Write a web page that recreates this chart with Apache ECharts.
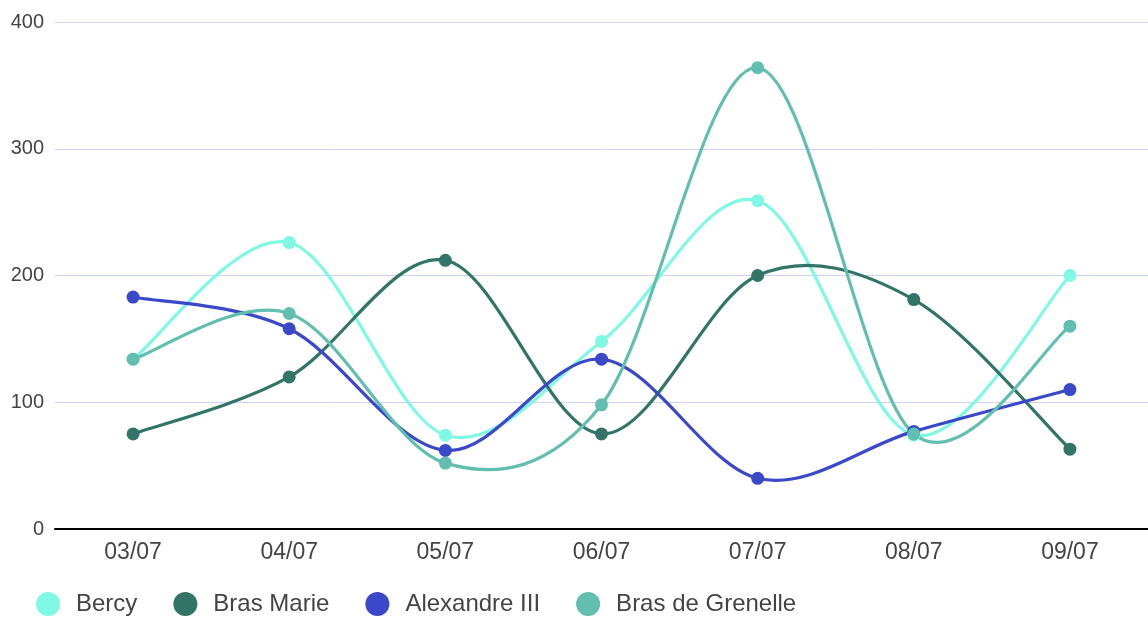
<!DOCTYPE html>
<html>
<head>
<meta charset="utf-8">
<script src="https://cdn.jsdelivr.net/npm/echarts@6/dist/echarts.min.js"></script>
<style>
html,body{margin:0;padding:0;background:#fff;}
#chart{width:1148px;height:617px;}
</style>
</head>
<body>
<div id="chart"></div>
<script>
var categories = ['03/07','04/07','05/07','06/07','07/07','08/07','09/07'];
var seriesNames = ['Bercy','Bras Marie','Alexandre III','Bras de Grenelle'];
var bercy = [134, 226, 74, 148, 259, 74, 200];
var brasMarie = [75, 120, 212, 75, 200, 181, 63];
var alexandre = [183, 158, 62, 134, 40, 77, 110];
var grenelle = [134, 170, 52, 98, 364, 75, 160];
var colors = ['#7ff9e4', '#327566', '#3a48c9', '#62bfb0'];
var values = [bercy, brasMarie, alexandre, grenelle];
var FONT = 'Liberation Sans, Arial, Helvetica, sans-serif';

function curveRenderer(vals, color) {
  return function (params, api) {
    var i = params.dataIndex;
    var n = vals.length;
    if (i >= n - 1) return {type: 'group', children: []};
    function pt(j) {
      j = Math.max(0, Math.min(n - 1, j));
      return api.coord([j, vals[j]]);
    }
    var p0 = pt(i - 1), p1 = pt(i), p2 = pt(i + 1), p3 = pt(i + 2);
    return {
      type: 'bezierCurve',
      silent: true,
      shape: {
        x1: p1[0], y1: p1[1],
        cpx1: p1[0] + (p2[0] - p0[0]) / 6, cpy1: p1[1] + (p2[1] - p0[1]) / 6,
        cpx2: p2[0] - (p3[0] - p1[0]) / 6, cpy2: p2[1] - (p3[1] - p1[1]) / 6,
        x2: p2[0], y2: p2[1]
      },
      style: {stroke: color, lineWidth: 3.2, fill: null, lineCap: 'round'}
    };
  };
}

var series = [];
seriesNames.forEach(function (n, i) {
  series.push({
    name: n, type: 'line', data: values[i],
    symbol: 'circle', symbolSize: 13, z: 3,
    lineStyle: {opacity: 0, width: 0},
    itemStyle: {color: colors[i]}
  });
});
seriesNames.forEach(function (n, i) {
  series.push({
    name: n, type: 'custom', z: 2,
    renderItem: curveRenderer(values[i], colors[i]),
    data: values[i].map(function (v, j) { return [j, v]; }),
    itemStyle: {color: colors[i]}
  });
});

var chart = echarts.init(document.getElementById('chart'));
chart.setOption({
  animation: false,
  color: colors,
  grid: {left: 55, right: -4, top: 22, bottom: 88, containLabel: false},
  legend: {
    left: 31, top: 587,
    icon: 'circle', itemWidth: 24, itemHeight: 24, itemGap: 36,
    textStyle: {fontSize: 24, color: '#444', fontFamily: FONT, padding: [0, 0, 0, 11]},
    data: seriesNames
  },
  xAxis: {
    type: 'category',
    data: categories,
    boundaryGap: true,
    axisLine: {lineStyle: {color: '#000', width: 2}},
    axisTick: {alignWithLabel: true, inside: true, length: 11, lineStyle: {color: '#999'}},
    axisLabel: {fontSize: 23, color: '#444', margin: 12, fontFamily: FONT}
  },
  yAxis: {
    type: 'value',
    min: 0, max: 400, interval: 100,
    axisLine: {show: false},
    axisTick: {show: false},
    axisLabel: {fontSize: 20, color: '#444', margin: 11, fontFamily: FONT},
    splitLine: {lineStyle: {color: '#cdd1f7', width: 1}}
  },
  series: series
});
</script>
</body>
</html>
